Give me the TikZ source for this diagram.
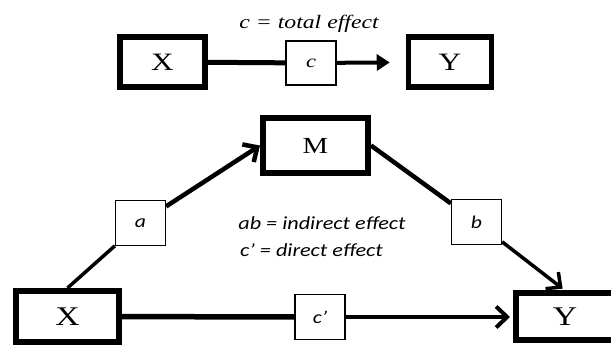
\documentclass[tikz,border=0pt]{standalone}
\usepackage{fontspec}
\newfontfamily\serifwide[FakeStretch=1.25]{Liberation Serif}
\newfontfamily\serifslant[FakeStretch=1.25]{Liberation Serif Italic}
\newfontfamily\sansslant[FakeStretch=1.2]{Carlito Italic}
\usetikzlibrary{arrows.meta}

\begin{document}
\begin{tikzpicture}[
    x=1pt, y=-1pt,
    varbox/.style={rectangle, draw=black, fill=white, line width=5.5pt, inner sep=0pt, font=\serifwide\fontsize{25}{25}\selectfont},
    pathbox/.style={rectangle, draw=black, fill=white, line width=1.3pt, inner sep=0pt, minimum width=50pt, minimum height=45pt, font=\sansslant\fontsize{18}{18}\selectfont},
    note/.style={inner sep=0pt, font=\sansslant\fontsize{18.5}{18.5}\selectfont},
    headtri/.style={-{Triangle[length=13pt,width=16pt]}},
    headbarb/.style={-{Straight Barb[length=11pt,width=21pt]}},
]
\useasboundingbox (0,0) rectangle (611,347);

% Total effect
\node[note, font=\serifslant\fontsize{19}{19}\selectfont] (total) at (309,24) {c = total effect};
\node[varbox, minimum width=85pt, minimum height=50pt] (topX) at (162.5,62) {X};
\node[varbox, minimum width=83pt, minimum height=50pt] (topY) at (450,62) {Y};
\node[pathbox, minimum height=44pt, font=\serifslant\fontsize{18}{18}\selectfont] (c) at (311,63) {c};

% Mediation model
\node[varbox, line width=6pt, minimum width=105pt, minimum height=55pt, font=\serifwide\fontsize{23}{23}\selectfont] (M) at (315.5,145.5) {M};
\node[varbox, line width=6pt, minimum width=103pt, minimum height=51pt, font=\serifwide\fontsize{27}{27}\selectfont] (X) at (67.5,316.5) {X};
\node[varbox, line width=6pt, minimum width=98pt, minimum height=47pt, font=\serifwide\fontsize{27}{27}\selectfont] (Y) at (565,317) {Y};
\node[pathbox] (a) at (140.5,223) {a};
\node[pathbox] (b) at (476.5,222) {b};
\node[pathbox] (cp) at (320,317) {c’};

% Labels
\node[note] (indirect) at (322,223) {ab = indirect effect};
\node[note] (direct) at (311.5,250) {c’ = direct effect};

% Arrows
\draw[line width=5pt] (topX) -- (c);
\draw[line width=4pt, headtri, shorten >=16pt] (c) -- (topY);
\draw[line width=3.5pt] (X.north) -- (a);
\draw[line width=4.5pt, headbarb] (a) -- (M.west);
\draw[line width=4.5pt] (M.east) -- (b);
\draw[line width=3.5pt, headbarb, shorten >=3pt] (b) -- (Y.north);
\draw[line width=5.5pt] (X) -- (cp);
\draw[line width=4pt, headbarb, shorten >=3pt] (cp) -- (Y);

\end{tikzpicture}
\end{document}
